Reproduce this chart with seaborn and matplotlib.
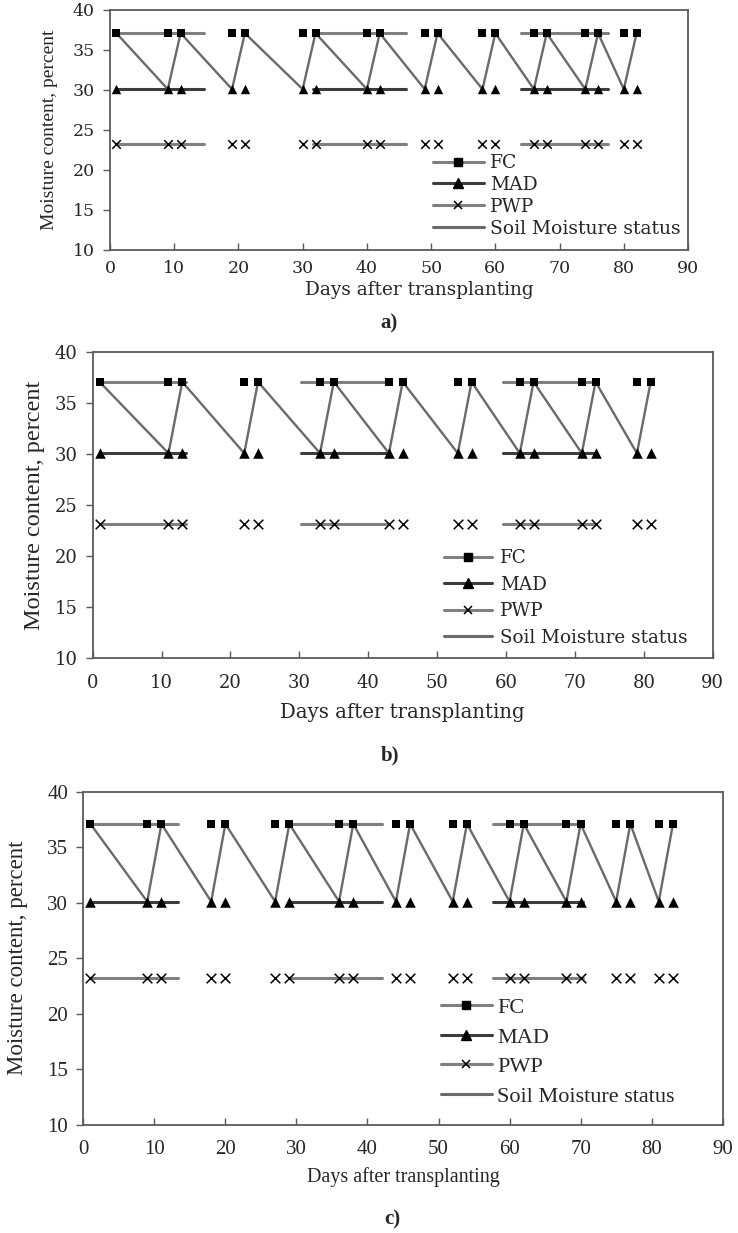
import numpy as np
import pandas as pd
import matplotlib
matplotlib.use('Agg')
from matplotlib import pyplot as plt
from matplotlib.lines import Line2D
import seaborn as sns

sns.set_theme(style='white')
plt.rcParams['font.family'] = ['Liberation Serif', 'DejaVu Serif']

# threshold levels (percent)
fc_level = 37.1
mad_level = 30.1
pwp_level = 23.2

# a) irrigation days and soil moisture status
days_a = [1, 9, 11, 19, 21, 30, 32, 40, 42, 49, 51, 58, 60, 66, 68, 74, 76, 80, 82]
soil_a = [37.1, 30.1, 37.1, 30.1, 37.1, 30.1, 37.1, 30.1, 37.1, 30.1,
          37.1, 30.1, 37.1, 30.1, 37.1, 30.1, 37.1, 30.1, 37.1]
seg_a = [(1, 14.6), (31.6, 46.1), (64, 77.6)]

# b)
days_b = [1, 11, 13, 22, 24, 33, 35, 43, 45, 53, 55, 62, 64, 71, 73, 79, 81]
soil_b = [37.1, 30.1, 37.1, 30.1, 37.1, 30.1, 37.1, 30.1, 37.1,
          30.1, 37.1, 30.1, 37.1, 30.1, 37.1, 30.1, 37.1]
seg_b = [(1, 13.6), (30.2, 43), (59.6, 73)]

# c)
days_c = [1, 9, 11, 18, 20, 27, 29, 36, 38, 44, 46, 52, 54, 60, 62, 68, 70, 75, 77, 81, 83]
soil_c = [37.1, 30.1, 37.1, 30.1, 37.1, 30.1, 37.1, 30.1, 37.1, 30.1, 37.1,
          30.1, 37.1, 30.1, 37.1, 30.1, 37.1, 30.1, 37.1, 30.1, 37.1]
seg_c = [(1, 13.4), (29, 42), (57.7, 70.3)]

labels = ['FC', 'MAD', 'PWP', 'Soil Moisture status']
line_cols = {'FC': '#7f7f7f', 'MAD': '#3c3c3c', 'PWP': '#7f7f7f'}
soil_col = '#6a6a6a'


def draw(ax, days, soil, segs, st):
    levels = {'FC': fc_level, 'MAD': mad_level, 'PWP': pwp_level}
    rows = []
    for name, lvl in levels.items():
        for i, (x0, x1) in enumerate(segs):
            rows.append((name + str(i), name, x0, lvl))
            rows.append((name + str(i), name, x1, lvl))
    seg_df = pd.DataFrame(rows, columns=['seg', 'series', 'x', 'y'])
    sns.lineplot(data=seg_df, x='x', y='y', units='seg', estimator=None,
                 hue='series', palette=line_cols, lw=2.2, legend=False,
                 ax=ax, zorder=2)
    sns.lineplot(x=days, y=soil, color=soil_col, lw=1.7, sort=False,
                 estimator=None, ax=ax, zorder=3)
    sns.scatterplot(x=days, y=[fc_level] * len(days), marker='s', s=st['ms'] * 32,
                    color='black', edgecolor='black', linewidth=0, ax=ax, zorder=4)
    sns.scatterplot(x=days, y=[mad_level] * len(days), marker='^', s=st['ms'] * 46,
                    color='black', edgecolor='black', linewidth=0, ax=ax, zorder=4)
    sns.scatterplot(x=days, y=[pwp_level] * len(days), marker='x', s=st['ms'] * 38,
                    color='black', linewidth=1.1, ax=ax, zorder=4)

    ax.set_xlim(0, 90)
    ax.set_ylim(10, 40)
    ax.set_xticks(range(0, 91, 10))
    ax.set_yticks(range(10, 41, 5))
    for sp in ax.spines.values():
        sp.set_color('#5a5a5a')
        sp.set_linewidth(1.3)
    ax.tick_params(axis='x', direction='in', length=5, width=1, color='#5a5a5a',
                   pad=st['xpad'], labelsize=st['tick'], bottom=True)
    ax.tick_params(axis='y', direction='out', length=5, width=1, color='#5a5a5a',
                   pad=6, labelsize=st['tick'], left=True)
    for t in ax.get_xticklabels() + ax.get_yticklabels():
        t.set_fontfamily(st['tick_font'])

    bb = ax.get_position()
    w_px = bb.width * 738
    h_px = bb.height * 1233
    xl = ax.set_xlabel('Days after transplanting', fontsize=st['xl'],
                       fontfamily=st['xl_font'])
    xl.set_va('center')
    ax.xaxis.set_label_coords(st['xl_x'], -st['xl_dy'] / h_px)
    yl = ax.set_ylabel('Moisture content, percent', fontsize=st['yl'],
                       fontfamily='Liberation Serif')
    yl.set_va('center')
    ax.yaxis.set_label_coords(-st['yl_dx'] / w_px, 0.5)

    handles = [
        Line2D([], [], color=line_cols['FC'], lw=2.2, marker='s', ms=5.5,
               mfc='black', mec='black'),
        Line2D([], [], color=line_cols['MAD'], lw=2.2, marker='^', ms=6.5,
               mfc='black', mec='black'),
        Line2D([], [], color=line_cols['PWP'], lw=2.2, marker='x', ms=6,
               mec='black', mew=1.1),
        Line2D([], [], color=soil_col, lw=2.2),
    ]
    ax.legend(handles, labels, loc='center left', bbox_to_anchor=st['leg_pos'],
              frameon=False, borderpad=0, borderaxespad=0,
              handlelength=st['hl'], handletextpad=st['htp'],
              labelspacing=st['ls'],
              prop={'family': st['leg_font'], 'size': st['leg']})
    ax.text(st['tag_x'], -st['tag_dy'] / h_px, st['tag'], transform=ax.transAxes,
            ha='center', va='center', fontsize=15, fontweight='bold',
            fontfamily='Liberation Serif')


fig = plt.figure(figsize=(7.38, 12.33), dpi=100)
ax_a = fig.add_axes([110 / 738, 1 - 250 / 1233, 578 / 738, 240 / 1233])
ax_b = fig.add_axes([92.7 / 738, 1 - 658.3 / 1233, 620 / 738, 306 / 1233])
ax_c = fig.add_axes([83.3 / 738, 1 - 1124.7 / 1233, 639.4 / 738, 333 / 1233])

style_a = dict(tick_font='DejaVu Serif', tick=12.5, xpad=7.5,
               xl_font='DejaVu Serif', xl=13.3, xl_x=0.535, xl_dy=40,
               yl=14, yl_dx=60,
               leg_font='DejaVu Serif', leg=13.5, leg_pos=(0.559, 0.225),
               hl=2.7, htp=0.32, ls=0.21, tag='a)', tag_x=0.483, tag_dy=73, ms=1.0)
style_b = dict(tick_font='DejaVu Serif', tick=13, xpad=11.5,
               xl_font='DejaVu Serif', xl=14.2, xl_x=0.5, xl_dy=54,
               yl=17.5, yl_dx=58,
               leg_font='DejaVu Serif', leg=13.2, leg_pos=(0.567, 0.197),
               hl=2.6, htp=0.44, ls=0.46, tag='b)', tag_x=0.48, tag_dy=97, ms=1.25)
style_c = dict(tick_font='Liberation Serif', tick=15, xpad=11,
               xl_font='Liberation Serif', xl=14.5, xl_x=0.5, xl_dy=52,
               yl=16.5, yl_dx=66,
               leg_font='Liberation Serif', leg=16, leg_pos=(0.559, 0.218),
               hl=2.3, htp=0.23, ls=0.41, tag='c)', tag_x=0.484, tag_dy=95, ms=1.25)

draw(ax_a, days_a, soil_a, seg_a, style_a)
draw(ax_b, days_b, soil_b, seg_b, style_b)
draw(ax_c, days_c, soil_c, seg_c, style_c)

fig.savefig('out.png', dpi=100)
